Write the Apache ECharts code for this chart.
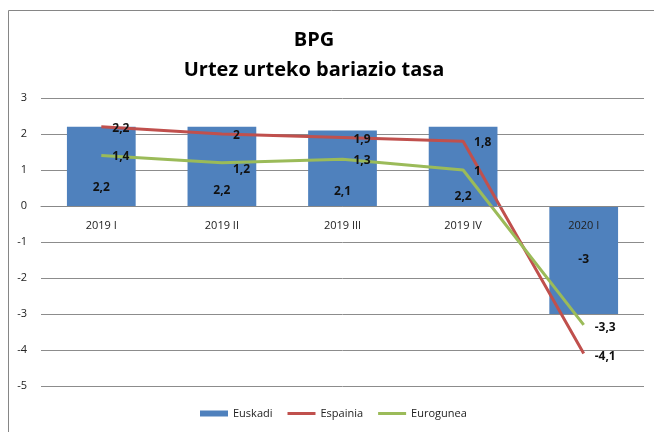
<!DOCTYPE html>
<html><head><meta charset="utf-8">
<script src="https://cdn.jsdelivr.net/npm/echarts@6/dist/echarts.min.js"></script>
<style>html,body{margin:0;padding:0;background:#fff}#c{width:655px;height:432px}</style>
</head><body><div id="c"></div>
<script>
const categories = ['2019 I', '2019 II', '2019 III', '2019 IV', '2020 I'];
const euskadi = [2.2, 2.2, 2.1, 2.2, -3];
const espainia = [2.2, 2.0, 1.9, 1.8, -4.1];
const eurogunea = [1.4, 1.2, 1.3, 1.0, -3.3];
const seriesNames = ['Euskadi', 'Espainia', 'Eurogunea'];
const titleLines = ['BPG', 'Urtez urteko bariazio tasa'];

const fmt = v => String(v).replace('.', ',');
const font = 'Open Sans, Noto Sans, sans-serif';
const barOffsets = [[0, 21], [0, 24], [0, 23], [0, 30], [0, 0]];
const espOffsets = [[0, 2], [0, 2], [0, 2], [0, 1], [0, 3]];
const euroOffsets = [[0, 1], [0, 7], [0, 1], [0, 2], [0, 3]];
const lineIcon = 'path://M0,0M0,6M0,1.5H28V4.5H0Z';

const chart = echarts.init(document.getElementById('c'));
chart.setOption({
  animation: false,
  title: {
    text: titleLines[0] + '\n' + titleLines[1],
    left: 309, top: 20, textAlign: 'center',
    textStyle: { fontFamily: font, fontWeight: 'bold', fontSize: 20, color: '#000', lineHeight: 30, align: 'center' }
  },
  graphic: [
    { type: 'polyline', shape: { points: [[8.5, 432], [8.5, 10.5], [654, 10.5]] }, style: { stroke: '#868686', lineWidth: 1, fill: null } }
  ],
  legend: {
    bottom: 8, left: 195, itemGap: 15, itemWidth: 28, itemHeight: 6, itemStyle: { borderWidth: 0 },
    textStyle: { fontFamily: font, fontSize: 11, color: '#222' },
    data: [
      { name: seriesNames[0], icon: 'rect' },
      { name: seriesNames[1], icon: lineIcon },
      { name: seriesNames[2], icon: lineIcon }
    ]
  },
  grid: { left: 41, right: 11, top: 98, bottom: 46 },
  xAxis: {
    type: 'category', data: categories, z: 10, offset: -180,
    axisLine: { onZero: false, lineStyle: { color: '#888', width: 1 } },
    axisTick: { show: false },
    axisLabel: { fontFamily: font, fontSize: 11, color: '#222', margin: 14 }
  },
  yAxis: {
    type: 'value', min: -5, max: 3, interval: 1,
    axisLine: { show: false }, axisTick: { show: false },
    splitLine: { lineStyle: { color: '#8c8c8c', width: 1 } },
    axisLabel: { fontFamily: font, fontSize: 11, color: '#222', margin: 14 }
  },
  series: [
    {
      name: seriesNames[0], type: 'bar', barWidth: '57%',
      itemStyle: { color: '#4F81BD' },
      data: euskadi.map((v, i) => ({
        value: v,
        label: { show: true, position: 'inside', offset: barOffsets[i], formatter: () => fmt(v),
          fontFamily: font, fontSize: 12, fontWeight: 'bold', color: '#111' }
      }))
    },
    {
      name: seriesNames[1], type: 'line', showSymbol: true, symbol: 'circle', symbolSize: 0,
      lineStyle: { color: '#C0504D', width: 3 }, itemStyle: { color: '#C0504D' },
      z: 3,
      data: espainia.map((v, i) => ({
        value: v,
        label: { show: true, position: 'right', distance: 11, offset: espOffsets[i], formatter: () => fmt(v),
          fontFamily: font, fontSize: 12, fontWeight: 'bold', color: '#111' }
      }))
    },
    {
      name: seriesNames[2], type: 'line', showSymbol: true, symbol: 'circle', symbolSize: 0,
      lineStyle: { color: '#9BBB59', width: 3 }, itemStyle: { color: '#9BBB59' },
      z: 4,
      data: eurogunea.map((v, i) => ({
        value: v,
        label: { show: true, position: 'right', distance: 11, offset: euroOffsets[i], formatter: () => fmt(v),
          fontFamily: font, fontSize: 12, fontWeight: 'bold', color: '#111' }
      }))
    }
  ]
});
</script></body></html>
